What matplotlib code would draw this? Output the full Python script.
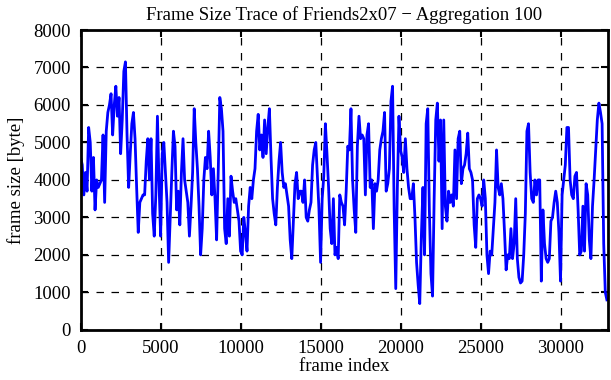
"""Frame size trace of Friends 2x07, aggregated over 100 frames."""
import numpy as np
import matplotlib
matplotlib.use("Agg")
import matplotlib.pyplot as plt

# aggregated frame size [byte], one value per 100 frames
frame_size = [
    4600, 4400, 3600, 4200, 3700, 5400, 5000, 3700, 4600, 3200,
    4000, 3800, 3900, 4000, 5200, 3400, 5300, 5800, 6000, 6300,
    5200, 6000, 6500, 5700, 6200, 4700, 5600, 6900, 7150, 5200,
    3800, 4700, 5500, 5800, 5100, 3800, 2600, 3400, 3500, 3600,
    3600, 4500, 5100, 4000, 5100, 3100, 2500, 3600, 5700, 3900,
    2500, 4700, 5000, 4200, 3400, 1800, 3000, 4200, 5300, 4900,
    3200, 3700, 2800, 4200, 5100, 4000, 3700, 3400, 2500, 3300,
    4200, 5900, 5000, 4300, 3300, 2000, 2700, 4000, 4600, 4300,
    5300, 4600, 3600, 4300, 3500, 2400, 4200, 6200, 5900, 5300,
    2700, 2300, 3500, 2500, 4100, 3700, 3400, 3500, 3200, 2900,
    2100, 2000, 3000, 2600, 2100, 3300, 3800, 3500, 4000, 4300,
    5300, 5750, 4800, 5200, 4600, 5600, 4700, 5400, 5900, 4600,
    3500, 3100, 2800, 3800, 4500, 5000, 4200, 3800, 3900, 3600,
    3300, 2400, 1900, 2900, 3900, 4200, 3500, 3700, 3700, 3400,
    4000, 3000, 2900, 3200, 3400, 4400, 4800, 5000, 4100, 3200,
    1800, 3500, 4100, 5500, 4700, 3800, 2700, 2300, 3500, 2000,
    2200, 1900, 3600, 3400, 3300, 2800, 3700, 4900, 4800, 5900,
    4000, 3200, 2600, 4900, 5700, 5100, 5200, 5100, 3600, 5200,
    5500, 3800, 4000, 2700, 3900, 3700, 4000, 4800, 5100, 5300,
    5800, 3700, 3900, 4300, 6100, 6500, 3200, 1100, 3800, 5700,
    4800, 4600, 4200, 5100, 4300, 3800, 3500, 3500, 3900, 3000,
    1800, 1200, 700, 2500, 3800, 2000, 5500, 5900, 3200, 1500,
    900, 3500, 5600, 6050, 4500, 5600, 2700, 5600, 3300, 2900,
    3700, 3400, 3600, 3300, 4800, 3500, 5100, 5300, 3900, 4300,
    4400, 4700, 5250, 4300, 4200, 4000, 2800, 2200, 3500, 3600,
    3500, 3300, 4000, 3500, 2000, 1500, 2100, 2000, 2700, 3400,
    4800, 3800, 3600, 3900, 3500, 2600, 1600, 2000, 1900, 2700,
    1900, 2300, 3500, 1900, 1400, 1250, 1300, 2000, 3100, 5300,
    5500, 4200, 3500, 3400, 4000, 3600, 4000, 4000, 1300, 3200,
    2300, 1900, 1800, 1900, 2900, 3000, 3400, 3700, 3400, 2600,
    1300, 3600, 4000, 4400, 5400, 5400, 4000, 3600, 3500, 4100,
    4200, 3200, 2000, 2100, 3300, 2100, 3900, 3600, 2400, 1900,
    3300, 4000, 4800, 5600, 6050, 5800, 5500, 2300, 1000, 800,
]
agg = 100
frame_index = np.arange(len(frame_size)) * agg

x_ticks = [0, 5000, 10000, 15000, 20000, 25000, 30000]
y_ticks = [0, 1000, 2000, 3000, 4000, 5000, 6000, 7000, 8000]

plt.rcParams["font.family"] = ["Liberation Serif", "DejaVu Serif"]
plt.rcParams["font.size"] = 13.5

fig = plt.figure(figsize=(6.11, 3.80), dpi=100)
ax = fig.add_axes([0.132, 0.132, 0.8626, 0.789])

ax.plot(frame_index, frame_size, color="#0000ff", lw=2)

ax.set_xlim(0, 32950)
ax.set_ylim(0, 8000)
ax.set_xticks(x_ticks)
ax.set_yticks(y_ticks)
ax.grid(True, color="black", ls=(0, (6, 6)), lw=0.9)
ax.tick_params(direction="in", length=5, width=1.5, top=True, right=True, pad=7)
for s in ax.spines.values():
    s.set_linewidth(2)

ax.set_xlabel("frame index", labelpad=1)
ax.set_ylabel("frame size [byte]", labelpad=6)
ax.set_title("Frame Size Trace of Friends2x07 \u2212 Aggregation 100", fontsize=13.5, pad=7)

fig.savefig("out.png", dpi=100)
